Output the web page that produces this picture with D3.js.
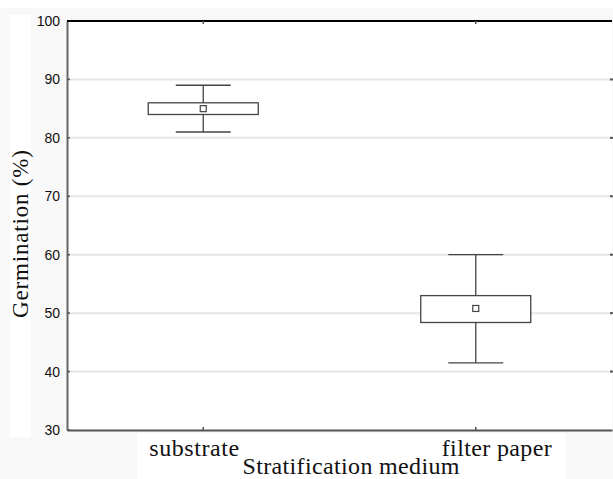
<!DOCTYPE html>
<html>
<head>
<meta charset="utf-8">
<script src="https://cdn.jsdelivr.net/npm/d3@7"></script>
<style>
  body { margin: 0; background: #f8f8f8; }
  svg { display: block; }
  .tick text { font-family: "Liberation Sans", Arial, sans-serif; font-size: 14px; fill: #111; }
  .title { font-family: "Liberation Serif", "Times New Roman", serif; fill: #111; }
</style>
</head>
<body>
<div id="chart"></div>
<script>
// data
var categories = ["substrate", "filter paper"];
var means = [85, 50.8];
var boxLow = [84, 48.4];
var boxHigh = [86, 53];
var whiskerLow = [81, 41.5];
var whiskerHigh = [89, 60];
var yTicks = [30, 40, 50, 60, 70, 80, 90, 100];

var width = 613, height = 479;
var margin = {top: 21, right: 1, bottom: 49, left: 67};

var svg = d3.select('#chart').append('svg')
    .attr('width', width)
    .attr('height', height);

// background patches
svg.append('rect').attr('x', 0).attr('y', 0).attr('width', width).attr('height', height).attr('fill', '#f8f8f8');
svg.append('rect').attr('x', 0).attr('y', 0).attr('width', width).attr('height', 8).attr('fill', '#fff');
svg.append('rect').attr('x', 10).attr('y', 15).attr('width', 21).attr('height', 422).attr('fill', '#fff');
svg.append('rect').attr('x', 137).attr('y', 433).attr('width', 429).attr('height', 46).attr('fill', '#fff');

var x = d3.scaleBand().domain(categories).range([margin.left, width - margin.right]);
var y = d3.scaleLinear().domain([30, 100]).range([height - margin.bottom, margin.top]);

// plot area
svg.append('rect')
    .attr('x', margin.left).attr('y', margin.top)
    .attr('width', width - margin.right - margin.left)
    .attr('height', height - margin.bottom - margin.top)
    .attr('fill', '#fff');

// grid lines
svg.append('g').selectAll('line')
    .data(yTicks.filter(function(d){ return d > 30 && d < 100; }))
    .enter().append('line')
    .attr('x1', margin.left).attr('x2', width - margin.right)
    .attr('y1', function(d){ return y(d); })
    .attr('y2', function(d){ return y(d); })
    .attr('stroke', '#e6e6e6')
    .attr('stroke-width', 2);

// left axis
var yAxis = d3.axisLeft(y).tickValues(yTicks).tickSize(0).tickPadding(7);
var gy = svg.append('g').attr('transform', 'translate(' + margin.left + ',0)').call(yAxis);
gy.select('.domain').attr('stroke', '#666').attr('stroke-width', 2);
// small inward ticks on the left
svg.append('g').selectAll('line').data(yTicks).enter().append('line')
    .attr('x1', margin.left).attr('x2', margin.left + 3)
    .attr('y1', function(d){ return y(d); }).attr('y2', function(d){ return y(d); })
    .attr('stroke', '#555').attr('stroke-width', 1.5);
// right side ticks
svg.append('g').selectAll('line').data(yTicks.slice(1, -1)).enter().append('line')
    .attr('x1', width - margin.right - 2).attr('x2', width)
    .attr('y1', function(d){ return y(d); }).attr('y2', function(d){ return y(d); })
    .attr('stroke', '#555').attr('stroke-width', 2);

// bottom axis
var xAxis = d3.axisBottom(x).tickSize(0).tickFormat('');
var gx = svg.append('g').attr('transform', 'translate(0,' + (height - margin.bottom) + ')').call(xAxis);
gx.select('.domain').attr('stroke', '#555').attr('stroke-width', 2);
svg.append('g').selectAll('line').data(categories).enter().append('line')
    .attr('x1', function(d){ return x(d) + x.bandwidth() / 2; })
    .attr('x2', function(d){ return x(d) + x.bandwidth() / 2; })
    .attr('y1', height - margin.bottom).attr('y2', height - margin.bottom - 3)
    .attr('stroke', '#555').attr('stroke-width', 1.5);
// top border and ticks
svg.append('line')
    .attr('x1', margin.left).attr('x2', width - margin.right)
    .attr('y1', margin.top).attr('y2', margin.top)
    .attr('stroke', '#000').attr('stroke-width', 2);
svg.append('g').selectAll('line').data(categories).enter().append('line')
    .attr('x1', function(d){ return x(d) + x.bandwidth() / 2; })
    .attr('x2', function(d){ return x(d) + x.bandwidth() / 2; })
    .attr('y1', margin.top).attr('y2', margin.top + 3)
    .attr('stroke', '#555').attr('stroke-width', 1.5);

// category labels (slightly shifted like the original)
var labelShift = {"substrate": -9, "filter paper": 21};
var labelLen = {"substrate": 90, "filter paper": 110};
svg.append('g').selectAll('text').data(categories).enter().append('text')
    .attr('class', 'title')
    .attr('x', function(d){ return x(d) + x.bandwidth() / 2 + labelShift[d]; })
    .attr('y', 456)
    .attr('text-anchor', 'middle')
    .attr('font-size', 24)
    .attr('textLength', function(d){ return labelLen[d]; })
    .text(function(d){ return d; });

// axis titles
svg.append('text').attr('class', 'title')
    .attr('x', 351).attr('y', 474)
    .attr('text-anchor', 'middle')
    .attr('font-size', 24)
    .attr('textLength', 217)
    .text('Stratification medium');

svg.append('text').attr('class', 'title')
    .attr('transform', 'translate(28,234)rotate(-90)')
    .attr('text-anchor', 'middle')
    .attr('font-size', 23)
    .attr('textLength', 168)
    .text('Germination (%)');

// boxes
var boxW = 110, capW = 55, stroke = '#444';
var idx = d3.range(categories.length);
var boxes = svg.append('g').selectAll('g').data(idx).enter().append('g');

boxes.append('line')
    .attr('x1', function(i){ return x(categories[i]) + x.bandwidth() / 2; })
    .attr('x2', function(i){ return x(categories[i]) + x.bandwidth() / 2; })
    .attr('y1', function(i){ return y(whiskerLow[i]); })
    .attr('y2', function(i){ return y(whiskerHigh[i]); })
    .attr('stroke', stroke).attr('stroke-width', 1.3);

[whiskerLow, whiskerHigh].forEach(function(arr){
    boxes.append('line')
        .attr('x1', function(i){ return x(categories[i]) + x.bandwidth() / 2 - capW / 2; })
        .attr('x2', function(i){ return x(categories[i]) + x.bandwidth() / 2 + capW / 2; })
        .attr('y1', function(i){ return y(arr[i]); })
        .attr('y2', function(i){ return y(arr[i]); })
        .attr('stroke', stroke).attr('stroke-width', 1.3);
});

boxes.append('rect')
    .attr('x', function(i){ return x(categories[i]) + x.bandwidth() / 2 - boxW / 2; })
    .attr('y', function(i){ return y(boxHigh[i]); })
    .attr('width', boxW)
    .attr('height', function(i){ return y(boxLow[i]) - y(boxHigh[i]); })
    .attr('fill', '#fff')
    .attr('stroke', stroke).attr('stroke-width', 1.3);

boxes.append('rect')
    .attr('x', function(i){ return x(categories[i]) + x.bandwidth() / 2 - 3; })
    .attr('y', function(i){ return y(means[i]) - 3; })
    .attr('width', 6).attr('height', 6)
    .attr('fill', '#fff')
    .attr('stroke', stroke).attr('stroke-width', 1.2);
</script>
</body>
</html>
